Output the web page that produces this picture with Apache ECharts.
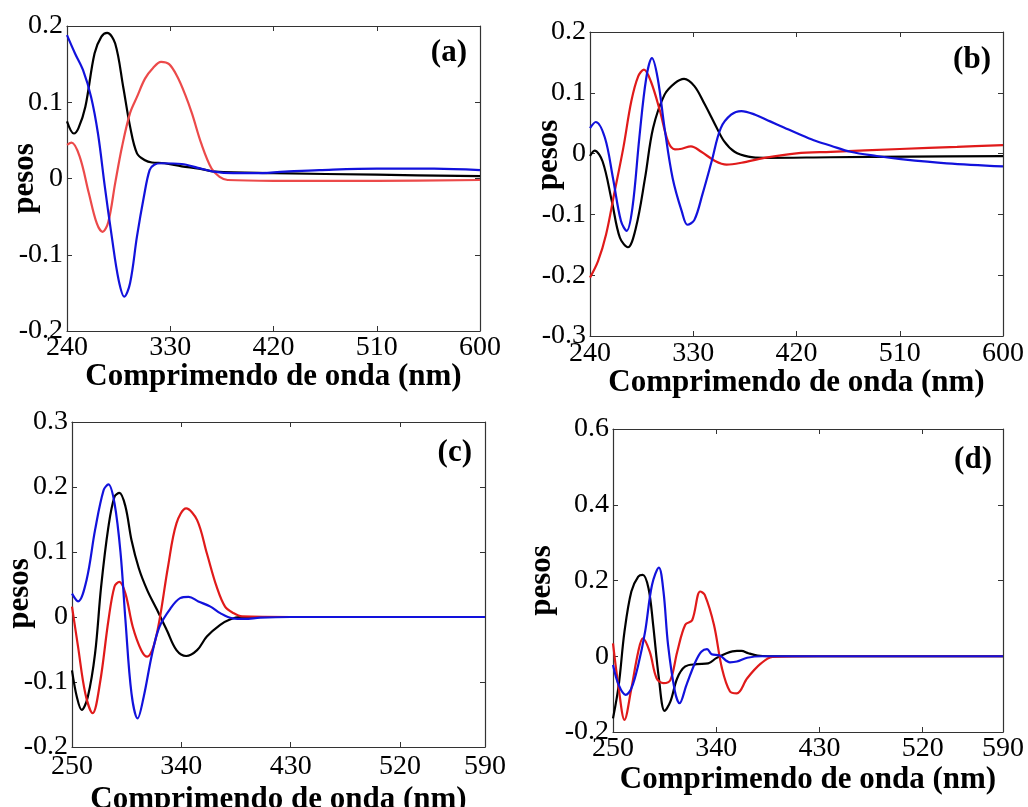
<!DOCTYPE html>
<html>
<head>
<meta charset="utf-8">
<script src="https://cdn.jsdelivr.net/npm/echarts@6/dist/echarts.min.js"></script>
<style>
    html, body { margin: 0; padding: 0; background: #fff; }
    #chart { width: 1028px; height: 807px; }
</style>
</head>
<body>
<div id="chart"></div>
<script>
    // pesos vs comprimento de onda, [nm, valor]
    const aBlack = [[240,0.075],[246,0.059],[250,0.066],[256,0.094],[264,0.164],[270,0.186],[275,0.191],[282,0.177],[289,0.12],[295,0.068],[301,0.033],[308,0.024],[314,0.021],[325,0.02],[340,0.016],[355,0.013],[369,0.009],[420,0.007],[510,0.005],[600,0.003]];
    const aRed = [[240,0.044],[244,0.047],[251,0.029],[259,-0.019],[266,-0.059],[271,-0.07],[276,-0.057],[282,-0.006],[288,0.042],[295,0.086],[301,0.107],[308,0.131],[315,0.145],[322,0.153],[329,0.15],[336,0.134],[343,0.11],[349,0.085],[357,0.046],[366,0.013],[373,0.002],[380,-0.002],[420,-0.003],[510,-0.003],[600,-0.002]];
    const aBlue = [[240,0.188],[247,0.164],[254,0.142],[261,0.107],[267,0.059],[273,-0.011],[279,-0.076],[285,-0.133],[290,-0.155],[295,-0.137],[301,-0.076],[307,-0.024],[312,0.011],[316,0.018],[322,0.02],[340,0.019],[354,0.014],[368,0.009],[385,0.007],[403,0.007],[430,0.009],[460,0.011],[510,0.013],[560,0.013],[600,0.011]];

    const bBlack = [[240,-0.004],[244,0.005],[251,-0.013],[259,-0.078],[266,-0.138],[273,-0.154],[280,-0.122],[288,-0.04],[295,0.042],[305,0.097],[314,0.116],[322,0.123],[331,0.111],[340,0.081],[349,0.048],[357,0.02],[366,0.003],[378,-0.005],[392,-0.007],[450,-0.006],[520,-0.005],[600,-0.004]];
    const bRed = [[240,-0.204],[247,-0.177],[254,-0.133],[261,-0.067],[269,0.009],[276,0.086],[282,0.127],[287,0.138],[293,0.119],[301,0.07],[308,0.02],[314,0.007],[320,0.008],[328,0.012],[337,0.003],[349,-0.012],[359,-0.018],[372,-0.015],[392,-0.007],[420,0.0005],[450,0.003],[510,0.0076],[560,0.011],[600,0.014]];
    const bBlue = [[240,0.042],[245,0.052],[253,0.026],[260,-0.04],[267,-0.111],[272,-0.127],[277,-0.089],[283,0.026],[289,0.124],[294,0.157],[299,0.124],[305,0.042],[312,-0.04],[320,-0.095],[325,-0.117],[331,-0.109],[338,-0.067],[346,-0.013],[354,0.042],[363,0.064],[372,0.07],[384,0.064],[397,0.053],[409,0.043],[421,0.033],[435,0.022],[450,0.013],[467,0.003],[490,-0.004],[511,-0.009],[551,-0.016],[600,-0.021]];

    const cBlack = [[250,-0.082],[254,-0.123],[258,-0.143],[263,-0.123],[269,-0.056],[274,0.047],[280,0.139],[285,0.185],[289,0.191],[294,0.17],[299,0.118],[305,0.075],[312,0.041],[320,0.011],[328,-0.02],[336,-0.051],[344,-0.06],[353,-0.051],[361,-0.03],[372,-0.012],[380,-0.004],[388,0],[430,0],[520,0],[590,0]];
    const cRed = [[250,0.016],[255,-0.046],[261,-0.118],[267,-0.148],[273,-0.102],[280,-0.005],[285,0.047],[289,0.054],[294,0.036],[300,-0.015],[307,-0.051],[312,-0.061],[317,-0.046],[322,-0.005],[329,0.077],[336,0.144],[344,0.167],[353,0.149],[361,0.098],[369,0.047],[376,0.016],[383,0.006],[390,0.001],[430,0],[520,0],[590,0]];
    const cBlue = [[250,0.036],[255,0.024],[262,0.057],[269,0.134],[276,0.195],[280,0.204],[285,0.175],[290,0.098],[294,-0.005],[299,-0.118],[304,-0.156],[309,-0.123],[316,-0.056],[322,-0.015],[331,0.013],[339,0.029],[346,0.031],[354,0.024],[364,0.016],[372,0.006],[382,-0.002],[392,-0.003],[405,-0.001],[430,0],[520,0],[590,0]];

    const dBlack = [[250,-0.164],[255,-0.076],[260,0.065],[266,0.171],[272,0.21],[276,0.215],[281,0.179],[285,0.083],[290,-0.058],[295,-0.144],[300,-0.12],[306,-0.058],[313,-0.027],[323,-0.021],[333,-0.019],[340,-0.005],[349,0.008],[358,0.014],[362,0.014],[368,0.008],[376,0.002],[385,0],[430,0],[520,0],[590,0]];
    const dRed = [[250,0.034],[255,-0.085],[260,-0.168],[266,-0.085],[272,0.012],[276,0.047],[282,0.012],[288,-0.058],[294,-0.071],[300,-0.063],[306,0.012],[313,0.083],[319,0.095],[326,0.171],[330,0.162],[338,0.083],[345,-0.032],[352,-0.093],[358,-0.098],[367,-0.058],[379,-0.019],[389,-0.002],[430,0],[520,0],[590,0]];
    const dBlue = [[250,-0.023],[255,-0.076],[261,-0.102],[266,-0.085],[272,-0.023],[278,0.065],[284,0.188],[290,0.234],[294,0.171],[298,0.03],[304,-0.093],[308,-0.124],[314,-0.076],[322,-0.014],[327,0.012],[332,0.019],[336,0.005],[343,0.002],[352,-0.016],[358,-0.014],[367,-0.004],[380,0],[430,0],[520,0],[590,0]];

    const xTicksAB = [240, 330, 420, 510, 600];
    const xTicksCD = [250, 340, 430, 520, 590];
    const yTicksA = [-0.2, -0.1, 0, 0.1, 0.2];
    const yTicksB = [-0.3, -0.2, -0.1, 0, 0.1, 0.2];
    const yTicksC = [-0.2, -0.1, 0, 0.1, 0.2, 0.3];
    const yTicksD = [-0.2, 0, 0.2, 0.4, 0.6];
    const panelLabels = ['(a)', '(b)', '(c)', '(d)'];

    const FONT = '"Liberation Serif", "Times New Roman", serif';
    const frameColor = '#333';

    // namePad: desloca o rótulo "pesos" ao longo do eixo
    const panels = [
        {grid: {left: 67, top: 26, width: 413, height: 305}, xt: xTicksAB, yt: yTicksA, lines: [aBlack, aRed, aBlue], red: '#ec4a4a', lblGap: 3, nameGap: 30, yNameGap: 27, namePad: [0, 0, 0, 0], tag: [467, 53]},
        {grid: {left: 590, top: 32, width: 413, height: 304}, xt: xTicksAB, yt: yTicksB, lines: [bBlack, bRed, bBlue], red: '#e01a1a', lblGap: 4, nameGap: 31, yNameGap: 26, namePad: [0, 0, 0, 58], tag: [991, 60]},
        {grid: {left: 72, top: 422, width: 413, height: 325}, xt: xTicksCD, yt: yTicksC, lines: [cBlack, cRed, cBlue], red: '#e01a1a', lblGap: 6, nameGap: 37, yNameGap: 37, namePad: [0, 18, 0, 0], tag: [472, 453]},
        {grid: {left: 613, top: 429, width: 390, height: 303}, xt: xTicksCD, yt: yTicksD, lines: [dBlack, dRed, dBlue], red: '#e01a1a', lblGap: 3, nameGap: 32, yNameGap: 56, namePad: [0, 0, 0, 0], tag: [992, 460]}
    ];

    function fmt(v) {
        return String(Math.round(v * 10) / 10);
    }

    let grids = [], xAxes = [], yAxes = [], series = [], graphics = [];
    panels.forEach(function (p, i) {
        grids.push(Object.assign({containLabel: false, outerBoundsMode: 'none'}, p.grid));
        let xmin = p.xt[0], xmax = p.xt[p.xt.length - 1];
        let ymin = p.yt[0], ymax = p.yt[p.yt.length - 1];
        let tick = {show: true, inside: true, length: 5, customValues: p.xt, lineStyle: {color: frameColor}};
        xAxes.push({
            type: 'value', gridIndex: i, position: 'bottom', min: xmin, max: xmax,
            axisLine: {show: true, onZero: false, lineStyle: {color: frameColor, width: 1.2}},
            axisTick: tick,
            splitLine: {show: false},
            axisLabel: {customValues: p.xt, margin: p.lblGap, color: '#000', fontFamily: FONT, fontSize: 28,
                formatter: function (v) { return String(v); }},
            name: 'Comprimendo de onda (nm)', nameLocation: 'middle', nameGap: p.nameGap, nameMoveOverlap: false,
            nameTextStyle: {color: '#000', fontFamily: FONT, fontSize: 31, fontWeight: 'bold'}
        });
        xAxes.push({
            type: 'value', gridIndex: i, position: 'top', min: xmin, max: xmax,
            axisLine: {show: true, onZero: false, lineStyle: {color: frameColor, width: 1.2}},
            axisTick: tick, axisLabel: {show: false}, splitLine: {show: false}
        });
        let ytick = {show: true, inside: true, length: 5, customValues: p.yt, lineStyle: {color: frameColor}};
        yAxes.push({
            type: 'value', gridIndex: i, position: 'left', min: ymin, max: ymax,
            axisLine: {show: true, onZero: false, lineStyle: {color: frameColor, width: 1.2}},
            axisTick: ytick, splitLine: {show: false},
            axisLabel: {customValues: p.yt, margin: 4, color: '#000', fontFamily: FONT, fontSize: 28, formatter: fmt},
            name: 'pesos', nameLocation: 'middle', nameGap: p.yNameGap, nameRotate: 90, nameMoveOverlap: false,
            nameTextStyle: {color: '#000', fontFamily: FONT, fontSize: 31, fontWeight: 'bold', padding: p.namePad}
        });
        yAxes.push({
            type: 'value', gridIndex: i, position: 'right', min: ymin, max: ymax,
            axisLine: {show: true, onZero: false, lineStyle: {color: frameColor, width: 1.2}},
            axisTick: ytick, axisLabel: {show: false}, splitLine: {show: false}
        });
        let colors = ['#000000', p.red, '#1212dc'];
        p.lines.forEach(function (d, k) {
            series.push({
                type: 'line', xAxisIndex: i * 2, yAxisIndex: i * 2, data: d,
                smooth: 0.35, symbol: 'none', silent: true,
                lineStyle: {color: colors[k], width: 2.2}
            });
        });
        graphics.push({
            type: 'text', x: p.tag[0], y: p.tag[1],
            style: {text: panelLabels[i], fill: '#000', font: 'bold 31px ' + FONT, align: 'right', verticalAlign: 'middle'}
        });
    });

    let myChart = echarts.init(document.getElementById('chart'));
    myChart.setOption({
        backgroundColor: '#fff',
        animation: false,
        grid: grids,
        xAxis: xAxes,
        yAxis: yAxes,
        series: series,
        graphic: graphics
    });
</script>
</body>
</html>
